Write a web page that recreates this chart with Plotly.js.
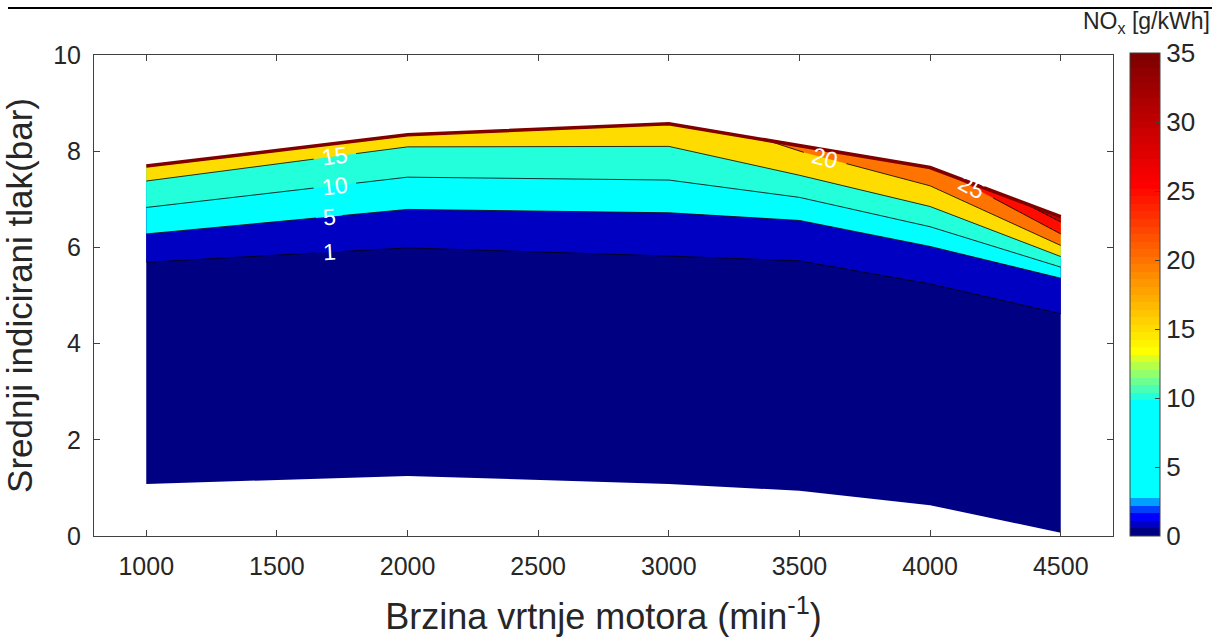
<!DOCTYPE html>
<html>
<head>
<meta charset="utf-8">
<script src="https://cdn.plot.ly/plotly-3.0.1.min.js"></script>
<style>html,body{margin:0;padding:0;background:#fff;}#chart{width:1222px;height:641px;}</style>
</head>
<body>
<div id="chart"></div>
<script>
// ---------- data ----------
const speed = [1000, 2000, 3000, 3500, 4000, 4500];          // min^-1
const pBottom = [1.08, 1.25, 1.08, 0.94, 0.64, 0.07];         // lowest measured pressure, bar
const pTop = [7.69, 8.34, 8.57, 8.11, 7.66, 6.64];            // full-load pressure, bar
// iso-NOx lines (pressure at each speed)
const iso1 = [5.69, 5.99, 5.82, 5.72, 5.24, 4.62];
const iso5 = [6.28, 6.79, 6.72, 6.56, 6.02, 5.36];
const iso10 = [6.83, 7.46, 7.40, 7.04, 6.43, 5.59];
const iso15 = [7.38, 8.09, 8.10, 7.50, 6.85, 5.81];
const iso20Speed = [3372, 3500, 4000, 4500];
const iso20 = [8.23, 8.00, 7.28, 6.04];
const iso25Speed = [4078, 4500];
const iso25 = [7.50, 6.28];
const iso30Speed = [4345, 4500];
const iso30 = [6.96, 6.53];
const levels = [1, 5, 10, 15, 20, 25, 30];
// contour labels
const labelLevel = [15, 10, 5, 1, 20, 25];
const labelSpeed = [1722, 1722, 1700, 1700, 3598, 4160];
// ticks
const xTicks = [1000, 1500, 2000, 2500, 3000, 3500, 4000, 4500];
const yTicks = [0, 2, 4, 6, 8, 10];
const cTicks = [0, 5, 10, 15, 20, 25, 30, 35];
const cMin = 0, cMax = 35;

// ---------- colormap (64 steps, custom jet-like) ----------
const cmapIdx = [0, 1, 2, 3, 4, 5, 17, 24, 46, 63];
const cmapRGB = [[0,0,131],[0,0,195],[0,0,255],[0,64,255],[0,160,255],[0,255,255],[0,255,255],[255,255,0],[255,0,0],[128,0,0]];
const NC = 64;
const cmap = [];
for (let i = 0; i < NC; i++) {
  let k = 0;
  while (k < cmapIdx.length - 2 && i > cmapIdx[k + 1]) k++;
  const t = (i - cmapIdx[k]) / (cmapIdx[k + 1] - cmapIdx[k]);
  const c = cmapRGB[k].map((v, j) => Math.round(v + (cmapRGB[k + 1][j] - v) * Math.max(0, Math.min(1, t))));
  cmap.push('rgb(' + c.join(',') + ')');
}
const colorscale = [];
for (let i = 0; i < NC; i++) {
  colorscale.push([i / NC, cmap[i]]);
  colorscale.push([(i + 1) / NC - (i < NC - 1 ? 1e-6 : 0), cmap[i]]);
}
function colorOf(v) {
  let i = Math.floor((v - cMin) / (cMax - cMin) * NC + 1e-9);
  return cmap[Math.max(0, Math.min(NC - 1, i))];
}

// ---------- geometry helpers ----------
function interp(xs, ys, x) {
  for (let i = 0; i < xs.length - 1; i++) {
    if (x >= xs[i] && x <= xs[i + 1]) {
      return ys[i] + (ys[i + 1] - ys[i]) * (x - xs[i]) / (xs[i + 1] - xs[i]);
    }
  }
  return x < xs[0] ? ys[0] : ys[ys.length - 1];
}
function slopeAt(xs, ys, x) {
  for (let i = 0; i < xs.length - 1; i++) {
    if (x >= xs[i] && x <= xs[i + 1]) return [xs[i + 1] - xs[i], ys[i + 1] - ys[i]];
  }
  return [1, 0];
}

const isoLines = {
  1: [speed, iso1], 5: [speed, iso5], 10: [speed, iso10], 15: [speed, iso15],
  20: [iso20Speed, iso20], 25: [iso25Speed, iso25], 30: [iso30Speed, iso30]
};

const FONT = 'Liberation Sans, Arial, sans-serif';
const W = 1222, H = 641, M = {l: 94, r: 109, t: 55, b: 105};
const xRange = [800, 4700], yRange = [0, 10];
const pw = W - M.l - M.r, ph = H - M.t - M.b;
const pxX = pw / (xRange[1] - xRange[0]), pxY = ph / (yRange[1] - yRange[0]);

const traces = [];
// base region (0..1)
traces.push({
  x: speed.concat(speed.slice().reverse()),
  y: pBottom.concat(pTop.slice().reverse()),
  type: 'scatter', mode: 'lines', fill: 'toself', fillcolor: colorOf(0),
  line: {width: 0, color: colorOf(0)}, hoverinfo: 'skip', showlegend: false
});
// band polygons: iso line + top boundary back to start
levels.forEach(L => {
  const [xs, ys] = isoLines[L];
  const bx = xs.slice(), by = ys.slice();
  for (let i = speed.length - 1; i >= 0; i--) {
    if (speed[i] > xs[0] && speed[i] <= xs[xs.length - 1]) { bx.push(speed[i]); by.push(pTop[i]); }
  }
  bx.push(xs[0]); by.push(xs[0] === speed[0] ? pTop[0] : interp(speed, pTop, xs[0]));
  traces.push({
    x: bx, y: by, type: 'scatter', mode: 'lines', fill: 'toself', fillcolor: colorOf(L),
    line: {width: 0, color: colorOf(L)}, hoverinfo: 'skip', showlegend: false
  });
});
// contour lines with gaps for labels
const annotations = [];
levels.forEach(L => {
  const [xs, ys] = isoLines[L];
  const gaps = [];
  labelLevel.forEach((lv, k) => {
    if (lv === L) {
      const half = (String(lv).length * 13 + 8) / pxX / 2 * 1.25;
      gaps.push([labelSpeed[k] - half, labelSpeed[k] + half]);
    }
  });
  gaps.sort((a, b) => a[0] - b[0]);
  const lx = [], ly = [];
  let gi = 0;
  for (let i = 0; i < xs.length; i++) {
    while (gi < gaps.length && gaps[gi][0] < xs[i]) {
      lx.push(gaps[gi][0]); ly.push(interp(xs, ys, gaps[gi][0]));
      lx.push(null); ly.push(null);
      lx.push(gaps[gi][1]); ly.push(interp(xs, ys, gaps[gi][1]));
      gi++;
    }
    const inGap = gaps.some(g => xs[i] > g[0] && xs[i] < g[1]);
    if (!inGap) { lx.push(xs[i]); ly.push(ys[i]); }
  }
  traces.push({
    x: lx, y: ly, type: 'scatter', mode: 'lines', line: {color: '#000', width: 0.8},
    hoverinfo: 'skip', showlegend: false, connectgaps: false
  });
});
// labels
labelLevel.forEach((lv, k) => {
  const [xs, ys] = isoLines[lv];
  const x = labelSpeed[k], y = interp(xs, ys, x);
  const [dx, dy] = slopeAt(xs, ys, x);
  const ang = -Math.atan2(dy * pxY, dx * pxX) * 180 / Math.PI;
  annotations.push({
    x: x, y: y, xref: 'x', yref: 'y', text: String(lv), showarrow: false,
    textangle: ang, font: {color: '#fff', size: 23, family: FONT},
    xanchor: 'center', yanchor: 'middle'
  });
});
// full-load line
traces.push({
  x: speed, y: pTop, type: 'scatter', mode: 'lines',
  line: {color: 'rgb(128,0,0)', width: 3.5}, hoverinfo: 'skip', showlegend: false
});
// colorbar carrier (outside visible range)
traces.push({
  type: 'heatmap', z: [[cMin, cMax]], x: [6000, 6100], y: [20, 21],
  zmin: cMin, zmax: cMax, colorscale: colorscale, hoverinfo: 'skip',
  showscale: true,
  colorbar: {
    x: (1130 - M.l) / pw, xanchor: 'left', y: 0.502, yanchor: 'middle',
    thickness: 30, thicknessmode: 'pixels', len: 483, lenmode: 'pixels',
    xpad: 0, ypad: 0, outlinewidth: 1, outlinecolor: '#404040',
    ticks: 'inside', ticklen: 5, tickcolor: '#404040', tickvals: cTicks,
    ticklabelstandoff: 8,
    tickfont: {size: 26, color: '#262626', family: FONT}
  }
});

annotations.push({
  xref: 'paper', yref: 'paper', x: (1146 - M.l) / pw, y: (H - M.b - 22) / ph,
  text: 'NO<sub>x</sub> [g/kWh]', showarrow: false, xanchor: 'center', yanchor: 'middle',
  font: {size: 23, color: '#262626', family: FONT}
});

const axisCommon = {
  showline: true, mirror: 'ticks', linecolor: '#404040', linewidth: 1,
  ticks: 'inside', ticklen: 6, tickcolor: '#404040', tickwidth: 1,
  showgrid: false, zeroline: false,
  tickfont: {size: 25, color: '#262626', family: FONT}
};

const layout = {
  width: W, height: H, margin: M, paper_bgcolor: '#fff', plot_bgcolor: '#fff',
  showlegend: false,
  font: {family: FONT, color: '#262626'},
  xaxis: Object.assign({}, axisCommon, {
    range: xRange, tickvals: xTicks, ticktext: xTicks.map(String), ticklabelstandoff: 8,
    title: {text: 'Brzina vrtnje motora (min<sup>-1</sup>)', font: {size: 36, color: '#262626'}, standoff: 24}
  }),
  yaxis: Object.assign({}, axisCommon, {
    range: yRange, tickvals: yTicks, ticktext: yTicks.map(String), ticklabelstandoff: 7,
    title: {text: 'Srednji indicirani tlak(bar)', font: {size: 35, color: '#262626'}, standoff: 10}
  }),
  annotations: annotations,
  shapes: [{
    type: 'line', xref: 'paper', yref: 'paper',
    x0: (8 - M.l) / pw, x1: (1212 - M.l) / pw, y0: (H - M.b - 8) / ph, y1: (H - M.b - 8) / ph,
    line: {color: '#000', width: 2}
  }]
};

Plotly.newPlot('chart', traces, layout, {displayModeBar: false, staticPlot: true});
</script>
</body>
</html>
